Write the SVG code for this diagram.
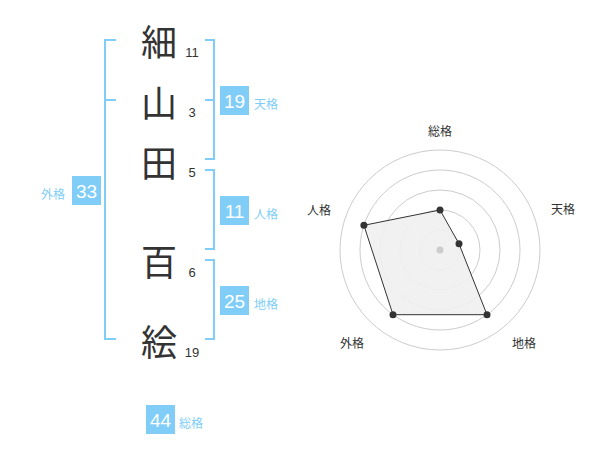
<svg xmlns="http://www.w3.org/2000/svg" width="600" height="470" viewBox="0 0 600 470">
<style>
.br{fill:none;stroke:#80cdf8;stroke-width:2}
.ch{font-family:"Noto Sans CJK JP",sans-serif;font-size:36px;fill:#333;text-anchor:middle;dominant-baseline:central}
.num{font-family:"Liberation Sans",Arial,sans-serif;font-size:13px;fill:#333;text-anchor:middle}
.box{fill:#80cdf8}
.bt{font-family:"Liberation Sans",Arial,sans-serif;font-size:19px;fill:#fff;text-anchor:middle}
.lb{font-family:"Noto Sans CJK JP",sans-serif;font-size:12px;fill:#80cdf8;dominant-baseline:central}
.ring{fill:none;stroke:#ccc;stroke-width:1}
.rl{font-family:"Noto Sans CJK JP",sans-serif;font-size:12px;fill:#333;text-anchor:middle;dominant-baseline:central}
.pt{fill:#333}
</style>
<rect width="600" height="470" fill="#fff"/>
<g id="connectors">
<path class="br" d="M116,40 H105 V339 H116 M105,100 H116"/>
<path class="br" d="M205,40 H214 V159 H205 M214,100 H205"/>
<path class="br" d="M205,170 H214 V249 H205"/>
<path class="br" d="M205,260 H214 V339 H205"/>
</g>
<g id="char1"><text class="ch" x="159" y="40">細</text><text class="num" x="192" y="57">11</text></g>
<g id="char2"><text class="ch" x="159" y="101">山</text><text class="num" x="192" y="117">3</text></g>
<g id="char3"><text class="ch" x="159" y="161">田</text><text class="num" x="192" y="177">5</text></g>
<g id="char4"><text class="ch" x="159" y="260">百</text><text class="num" x="192" y="277">6</text></g>
<g id="char5"><text class="ch" x="159" y="340">絵</text><text class="num" x="192" y="357">19</text></g>
<g id="tenkaku"><rect class="box" x="220" y="86" width="29" height="29"/><text class="bt" x="234.5" y="107.5">19</text><text class="lb" x="254" y="103">天格</text></g>
<g id="jinkaku"><rect class="box" x="220" y="196" width="29" height="29"/><text class="bt" x="234.5" y="217.5">11</text><text class="lb" x="254" y="213">人格</text></g>
<g id="chikaku"><rect class="box" x="220" y="286" width="29" height="29"/><text class="bt" x="234.5" y="307.5">25</text><text class="lb" x="254" y="303">地格</text></g>
<g id="gaikaku"><rect class="box" x="72" y="176" width="29" height="29"/><text class="bt" x="86.5" y="197.5">33</text><text class="lb" x="41" y="193">外格</text></g>
<g id="soukaku"><rect class="box" x="146" y="405" width="29" height="29"/><text class="bt" x="160.5" y="426.5">44</text><text class="lb" x="179" y="422">総格</text></g>
<g id="radar">
<circle class="ring" cx="440" cy="250" r="20"/>
<circle class="ring" cx="440" cy="250" r="40"/>
<circle class="ring" cx="440" cy="250" r="60"/>
<circle class="ring" cx="440" cy="250" r="80"/>
<circle class="ring" cx="440" cy="250" r="100"/>
<polygon points="440,210 459,243.8 487,314.7 393,314.7 363.9,225.3" fill="#f0f0f0" fill-opacity="0.9" stroke="#333" stroke-width="1"/>
<circle cx="440" cy="250" r="3.5" fill="#ccc"/>
<circle class="pt" cx="440" cy="210" r="3.5"/>
<circle class="pt" cx="459" cy="243.8" r="3.5"/>
<circle class="pt" cx="487" cy="314.7" r="3.5"/>
<circle class="pt" cx="393" cy="314.7" r="3.5"/>
<circle class="pt" cx="363.9" cy="225.3" r="3.5"/>
<text class="rl" x="440" y="130">総格</text>
<text class="rl" x="563" y="208">天格</text>
<text class="rl" x="524" y="342">地格</text>
<text class="rl" x="352" y="342">外格</text>
<text class="rl" x="319" y="209">人格</text>
</g>
</svg>
